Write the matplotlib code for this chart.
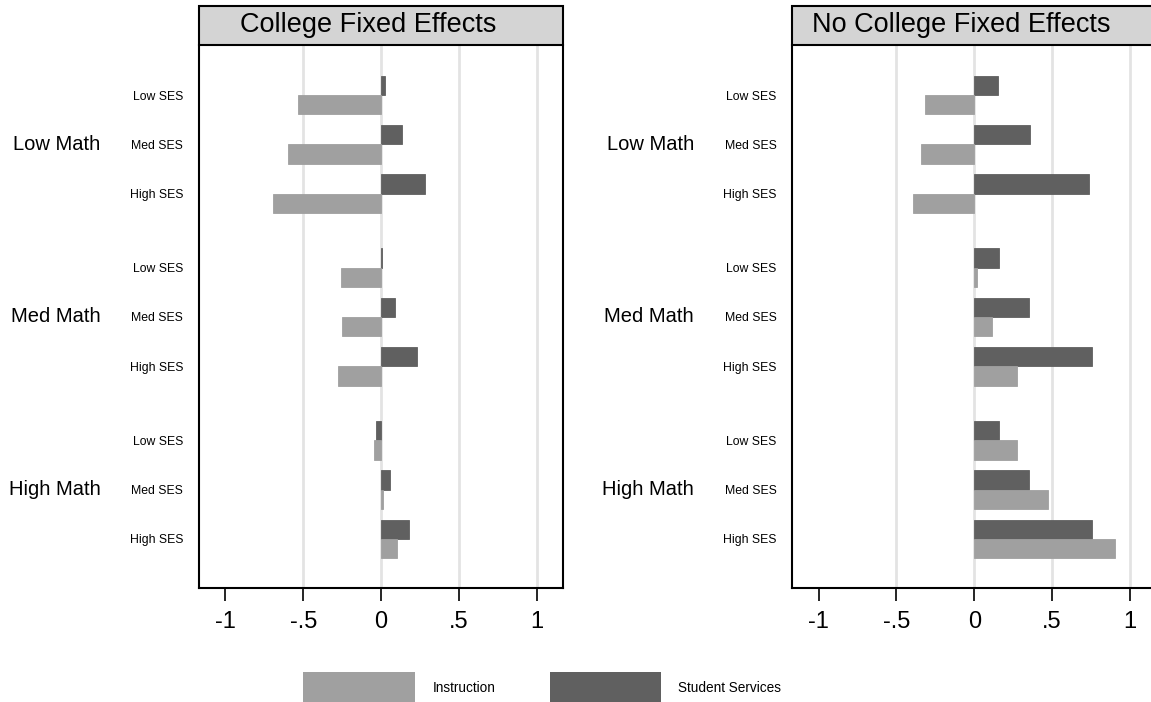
import matplotlib
matplotlib.use("Agg")
import matplotlib.pyplot as plt
from matplotlib.patches import Rectangle
from matplotlib.transforms import blended_transform_factory
import numpy as np

plt.rcParams['font.family'] = ['Liberation Sans', 'DejaVu Sans']

# ---------------- data ----------------
math_groups = ["Low Math", "Med Math", "High Math"]
ses_levels = ["Low SES", "Med SES", "High SES"]
panel_titles = ["College Fixed Effects", "No College Fixed Effects"]
series_names = ["Instruction", "Student Services"]

# values ordered: Low Math (Low, Med, High SES), Med Math (...), High Math (...)
fe_instruction = [-0.535, -0.600, -0.696,
                  -0.255, -0.251, -0.278,
                  -0.047, 0.009, 0.099]
fe_services = [0.028, 0.135, 0.279,
               0.004, 0.088, 0.230,
               -0.036, 0.054, 0.176]
nofe_instruction = [-0.319, -0.342, -0.396,
                    0.019, 0.116, 0.272,
                    0.272, 0.471, 0.906]
nofe_services = [0.150, 0.360, 0.734,
                 0.161, 0.349, 0.758,
                 0.156, 0.349, 0.758]

x_ticks = [-1, -0.5, 0, 0.5, 1]
x_ticklabels = ["-1", "-.5", "0", ".5", "1"]
grid_vals = [-0.5, 0, 0.5, 1]

# ---------------- style ----------------
LIGHT = "#a0a0a0"
DARK = "#606060"
TITLE_BG = "#d4d4d4"
GRID = "#e3e3e3"

W, H = 1151, 702
fig = plt.figure(figsize=(W / 100, H / 100), dpi=100)

ax_w = 364.8 / W
ax_bottom = (H - 588.3) / H
ax_h = 543.3 / H
lefts = [198.5 / W, 791.7 / W]

# y positions: groups separated by an extra gap
group_gap = 0.5
positions = []
for g in range(len(math_groups)):
    for s in range(len(ses_levels)):
        positions.append(g * (len(ses_levels) + group_gap) + s)
positions = np.array(positions, dtype=float)
bar_h = 0.39

panels = [(fe_instruction, fe_services), (nofe_instruction, nofe_services)]

for i, (instr, serv) in enumerate(panels):
    ax = fig.add_axes([lefts[i], ax_bottom, ax_w, ax_h])
    for gv in grid_vals:
        ax.axvline(gv, color=GRID, lw=2.0, zorder=0)
    ax.barh(positions - bar_h / 2, serv, height=bar_h, color=DARK,
            edgecolor=DARK, linewidth=0.6, zorder=2)
    ax.barh(positions + bar_h / 2, instr, height=bar_h, color=LIGHT,
            edgecolor=LIGHT, linewidth=0.6, zorder=2)
    ax.set_xlim(-1.173, 1.170)
    ax.set_ylim(10.0, -1.014)
    ax.set_xticks(x_ticks)
    ax.set_xticklabels(x_ticklabels, fontsize=17)
    ax.tick_params(axis='x', direction='out', length=9.6, width=1.2,
                   pad=7, colors='black')
    ax.set_yticks(positions)
    ax.set_yticklabels(ses_levels * len(math_groups), fontsize=8.8)
    ax.tick_params(axis='y', length=0, pad=11)
    for side in ['left', 'right', 'bottom']:
        ax.spines[side].set_linewidth(1.5)
        ax.spines[side].set_color('black')
    ax.spines['top'].set_visible(False)

    # group labels
    trans = blended_transform_factory(ax.transAxes, ax.transData)
    for g, name in enumerate(math_groups):
        ymid = positions[g * len(ses_levels) + 1]
        ax.text(-0.268, ymid, name, transform=trans, ha='right',
                va='center', fontsize=14.5)

    # title box
    box_h = 39.3 / 543.3
    ax.add_patch(Rectangle((0, 1), 1, box_h, transform=ax.transAxes,
                           facecolor=TITLE_BG, edgecolor='black',
                           linewidth=1.5, clip_on=False, zorder=5))
    ax.text(0.464, 1 + box_h / 2, panel_titles[i], transform=ax.transAxes,
            ha='center', va='center', fontsize=19.5, zorder=6)

# legend (drawn manually in figure pixels)
def fx(px):
    return px / W

def fy(py):
    return (H - py) / H

leg_items = [(LIGHT, series_names[0], 303.3, 415.0, 432.7),
             (DARK, series_names[1], 550.0, 661.0, 678.3)]
for color, label, x0, x1, tx in leg_items:
    fig.add_artist(Rectangle((fx(x0), fy(702)), fx(x1) - fx(x0),
                             fy(672.3) - fy(702), transform=fig.transFigure,
                             facecolor=color, edgecolor='none'))
    fig.text(fx(tx), fy(688), label, ha='left', va='center', fontsize=9.8)

fig.savefig("out.png", dpi=100)
